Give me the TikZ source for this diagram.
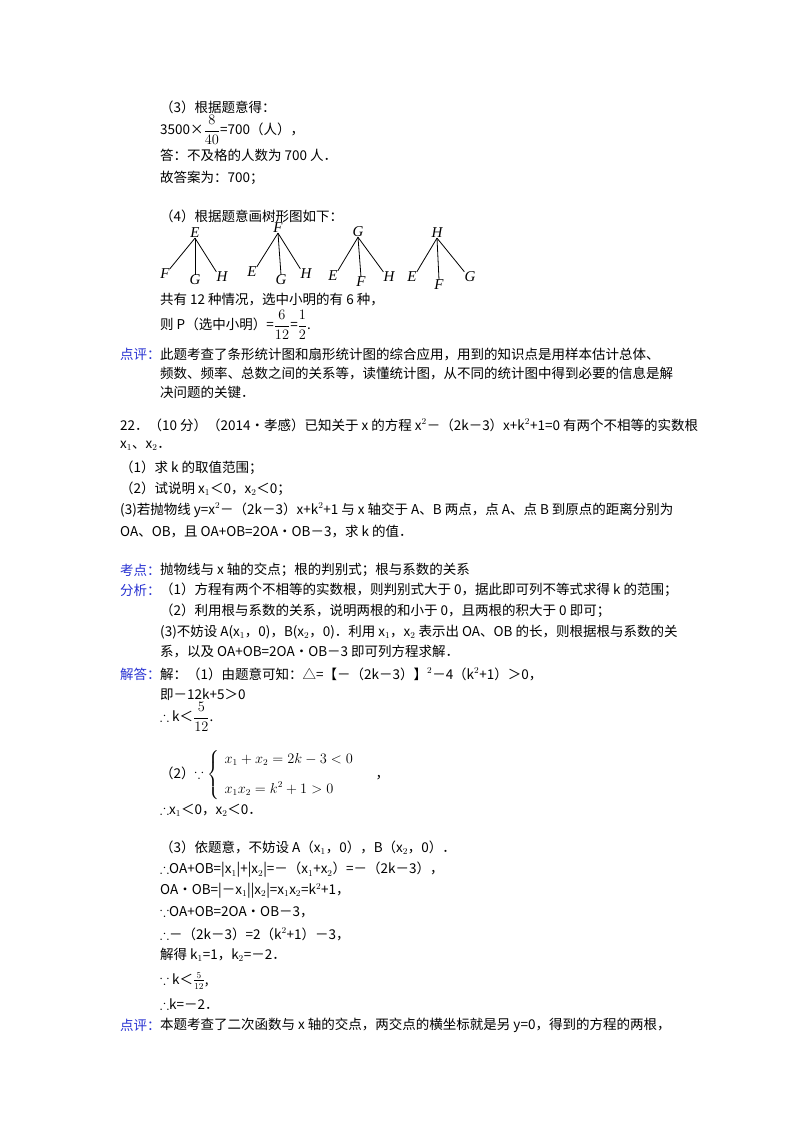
\documentclass[tikz,border=0pt]{standalone}
\usepackage{amsmath,amssymb}
\usepackage{fontspec}
\setmainfont{Noto Sans CJK SC}
\newfontfamily\labf{Liberation Serif}
\definecolor{kb}{RGB}{40,50,210}
\begin{document}
\begin{tikzpicture}[x=1pt,y=-1pt,
  t/.style={anchor=west,inner sep=0pt,font=\fontsize{13.5}{16}\selectfont},
  lab/.style={inner sep=0pt,font=\fontsize{15}{16}\selectfont\labf\itshape},
  br/.style={line width=0.8pt}]
\useasboundingbox (0,0) rectangle (800,1132);
\fill[white] (0,0) rectangle (800,1132);
\node[t] (a1) at (160,107) {（3）根据题意得：};
\node[t] (a2) at (160,130) {3500×$\dfrac{8}{40}$=700（人），};
\node[t] (a3) at (160,155) {答：不及格的人数为 700 人．};
\node[t] (a4) at (160,178) {故答案为：700；};
\node[t] (a5) at (160,216) {（4）根据题意画树形图如下：};
% trees
\foreach \nm/\r/\rx/\ry/\a/\ax/\ay/\b/\bx/\by/\c/\cx/\cy in {
  e/E/195/233/F/165/274/G/195/280/H/222/277,
  f/F/278/228/E/252/272/G/281/280/H/306/274,
  g/G/358/232/E/333/276/F/361/282/H/389/277,
  h/H/437/233/E/412/277/F/439/285/G/470/277}{
  \node[lab] (\nm r) at (\rx,\ry) {\r};
  \node[lab] (\nm a) at (\ax,\ay) {\a};
  \node[lab] (\nm b) at (\bx,\by) {\b};
  \node[lab] (\nm c) at (\cx,\cy) {\c};
  \draw[br] (\nm r.south) -- (\nm a.north east);
  \draw[br] (\nm r.south) -- (\nm b.north);
  \draw[br] (\nm r.south) -- (\nm c.north west);
}
\node[t] (a6) at (160,300) {共有 12 种情况，选中小明的有 6 种，};
\node[t] (a7) at (160,325) {则 P（选中小明）=$\dfrac{6}{12}$=$\dfrac{1}{2}$.};
\node[t,text=kb] (d1) at (120,354) {点评：};
\node[t] (d2) at (160,354) {此题考查了条形统计图和扇形统计图的综合应用，用到的知识点是用样本估计总体、};
\node[t] (d3) at (160,373) {频数、频率、总数之间的关系等，读懂统计图，从不同的统计图中得到必要的信息是解};
\node[t] (d4) at (160,392) {决问题的关键．};
\node[t] (q1) at (120,425) {22．（10 分）（2014•孝感）已知关于 x 的方程 x$^2$－（2k－3）x+k$^2$+1=0 有两个不相等的实数根};
\node[t] (q2) at (120,446) {x$_1$、x$_2$．};
\node[t] (q3) at (120,468) {（1）求 k 的取值范围；};
\node[t] (q4) at (120,489) {（2）试说明 x$_1$＜0，x$_2$＜0；};
\node[t] (q5) at (120,510) {(3)若抛物线 y=x$^2$－（2k－3）x+k$^2$+1 与 x 轴交于 A、B 两点，点 A、点 B 到原点的距离分别为};
\node[t] (q6) at (120,532) {OA、OB，且 OA+OB=2OA•OB－3，求 k 的值．};
\node[t,text=kb] (k1) at (120,570) {考点：};
\node[t] (k2) at (160,570) {抛物线与 x 轴的交点；根的判别式；根与系数的关系};
\node[t,text=kb] (f1) at (120,590) {分析：};
\node[t] (f2) at (160,590) {（1）方程有两个不相等的实数根，则判别式大于 0，据此即可列不等式求得 k 的范围；};
\node[t] (f3) at (160,611) {（2）利用根与系数的关系，说明两根的和小于 0，且两根的积大于 0 即可；};
\node[t] (f4) at (160,632) {(3)不妨设 A(x$_1$，0)，B(x$_2$，0)．利用 x$_1$，x$_2$ 表示出 OA、OB 的长，则根据根与系数的关};
\node[t] (f5) at (160,652) {系，以及 OA+OB=2OA•OB－3 即可列方程求解．};
\node[t,text=kb] (j1) at (120,674) {解答：};
\node[t] (j2) at (160,674) {解：（1）由题意可知：△=【－（2k－3）】$^2$－4（k$^2$+1）＞0，};
\node[t] (j3) at (160,695) {即－12k+5＞0};
\node[t] (j4) at (160,717) {$\therefore$ k＜$\dfrac{5}{12}$.};
\node[t] (j5) at (160,775) {（2）$\because\left\{\begin{array}{l}x_1+x_2=2k-3<0\\[14pt] x_1x_2=k^2+1>0\end{array}\right.$ \quad ，};
\node[t] (j6) at (160,810) {$\therefore$x$_1$＜0，x$_2$＜0．};
\node[t] (j7) at (160,848) {（3）依题意，不妨设 A（x$_1$，0），B（x$_2$，0）．};
\node[t] (j8) at (160,870) {$\therefore$OA+OB=|x$_1$|+|x$_2$|=－（x$_1$+x$_2$）=－（2k－3），};
\node[t] (j9) at (160,891) {OA•OB=|－x$_1$||x$_2$|=x$_1$x$_2$=k$^2$+1，};
\node[t] (j10) at (160,912) {$\because$OA+OB=2OA•OB－3，};
\node[t] (j11) at (160,934) {$\therefore$－（2k－3）=2（k$^2$+1）－3，};
\node[t] (j12) at (160,955) {解得 k$_1$=1，k$_2$=－2．};
\node[t] (j13) at (160,981) {$\because$ k＜$\frac{5}{12}$,};
\node[t] (j14) at (160,1004) {$\therefore$k=－2．};
\node[t,text=kb] (p1) at (120,1025) {点评：};
\node[t] (p2) at (160,1025) {本题考查了二次函数与 x 轴的交点，两交点的横坐标就是另 y=0，得到的方程的两根，};
\end{tikzpicture}
\end{document}
